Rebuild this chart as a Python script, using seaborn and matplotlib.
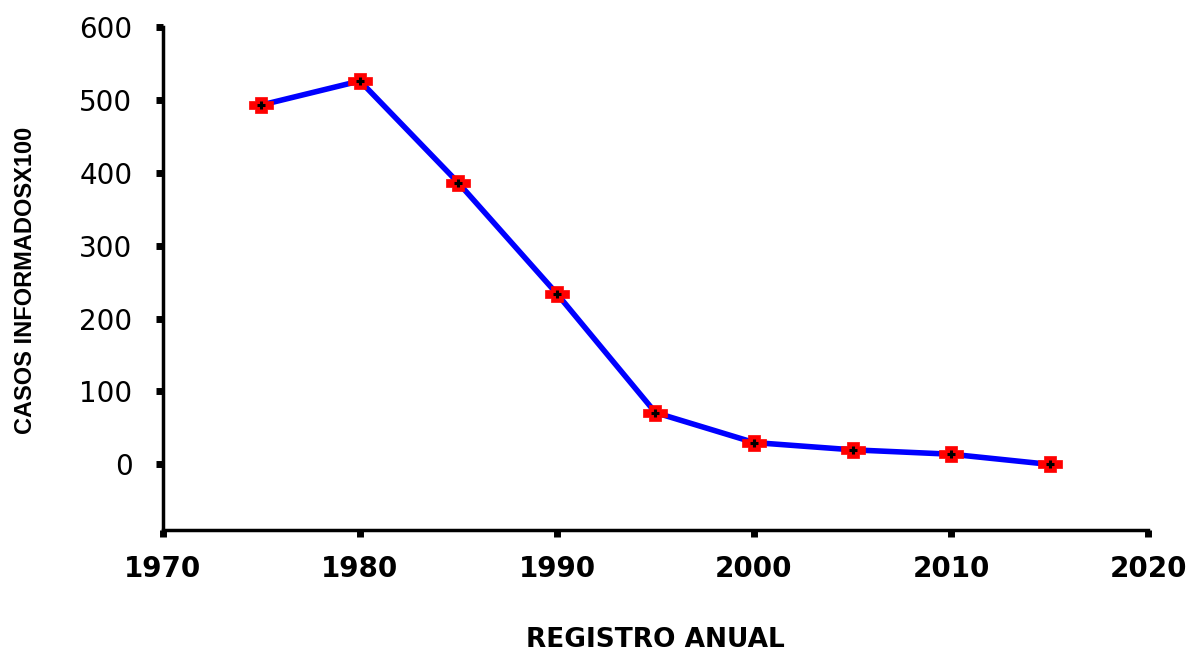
import matplotlib
matplotlib.use("Agg")
import matplotlib.pyplot as plt
from matplotlib.path import Path
import seaborn as sns
import pandas as pd

years = [1975, 1980, 1985, 1990, 1995, 2000, 2005, 2010, 2015]
casos = [493, 526, 386, 234, 71, 30, 20, 14, 0]
x_ticks = [1970, 1980, 1990, 2000, 2010, 2020]
y_ticks = [0, 100, 200, 300, 400, 500, 600]

sns.set_theme(style="white")
plt.rcParams['font.family'] = ['DejaVu Sans']
plt.rcParams['text.color'] = 'black'
plt.rcParams['axes.labelcolor'] = 'black'
plt.rcParams['xtick.color'] = 'black'
plt.rcParams['ytick.color'] = 'black'

# wide plus-shaped marker
verts = [(-0.25, 0.35), (0.25, 0.35), (0.25, 0.17), (0.5, 0.17), (0.5, -0.17),
         (0.25, -0.17), (0.25, -0.35), (-0.25, -0.35), (-0.25, -0.17), (-0.5, -0.17),
         (-0.5, 0.17), (-0.25, 0.17), (-0.25, 0.35)]
plus_marker = Path(verts, closed=True)

df = pd.DataFrame({"year": years, "casos": casos})

fig = plt.figure(figsize=(11.93, 6.52), dpi=100)
ax = fig.add_axes([0.1366, 0.1871, 0.8257, 0.7715])

sns.lineplot(data=df, x="year", y="casos", ax=ax, color="#0000ff", linewidth=4,
             marker=plus_marker, markersize=17, markerfacecolor="#ff0000",
             markeredgecolor="#ff0000", markeredgewidth=0.5)
ax.plot(df["year"], df["casos"], linestyle="none", marker="+", markersize=6,
        markeredgewidth=2.2, color="black", zorder=5)

ax.set_xlim(1970, 2020)
ax.set_ylim(-90, 600)
ax.set_xticks(x_ticks)
ax.set_yticks(y_ticks)
ax.set_xticklabels([str(t) for t in x_ticks], fontsize=20, fontweight="bold")
ax.set_yticklabels([str(t) for t in y_ticks], fontsize=20)
ax.tick_params(axis="both", direction="out", length=5, width=5, color="black",
               left=True, bottom=True)
ax.tick_params(axis="x", pad=13)
ax.tick_params(axis="y", pad=17)

for s in ["top", "right"]:
    ax.spines[s].set_visible(False)
for s in ["left", "bottom"]:
    ax.spines[s].set_visible(True)
    ax.spines[s].set_color("black")
    ax.spines[s].set_linewidth(2.5)

ax.set_xlabel("REGISTRO ANUAL", fontsize=19, fontweight="bold", color="black")
ax.xaxis.label.set_va("center")
ax.xaxis.set_label_coords(0.4995, -0.219)
ax.set_ylabel("CASOS INFORMADOSX100", fontsize=17, fontweight="bold", color="black",
              family=["Liberation Sans", "DejaVu Sans"])
ax.yaxis.label.set_va("center")
ax.yaxis.set_label_coords(-0.140, 0.497)
ax.grid(False)

fig.savefig("out.png", dpi=100)
